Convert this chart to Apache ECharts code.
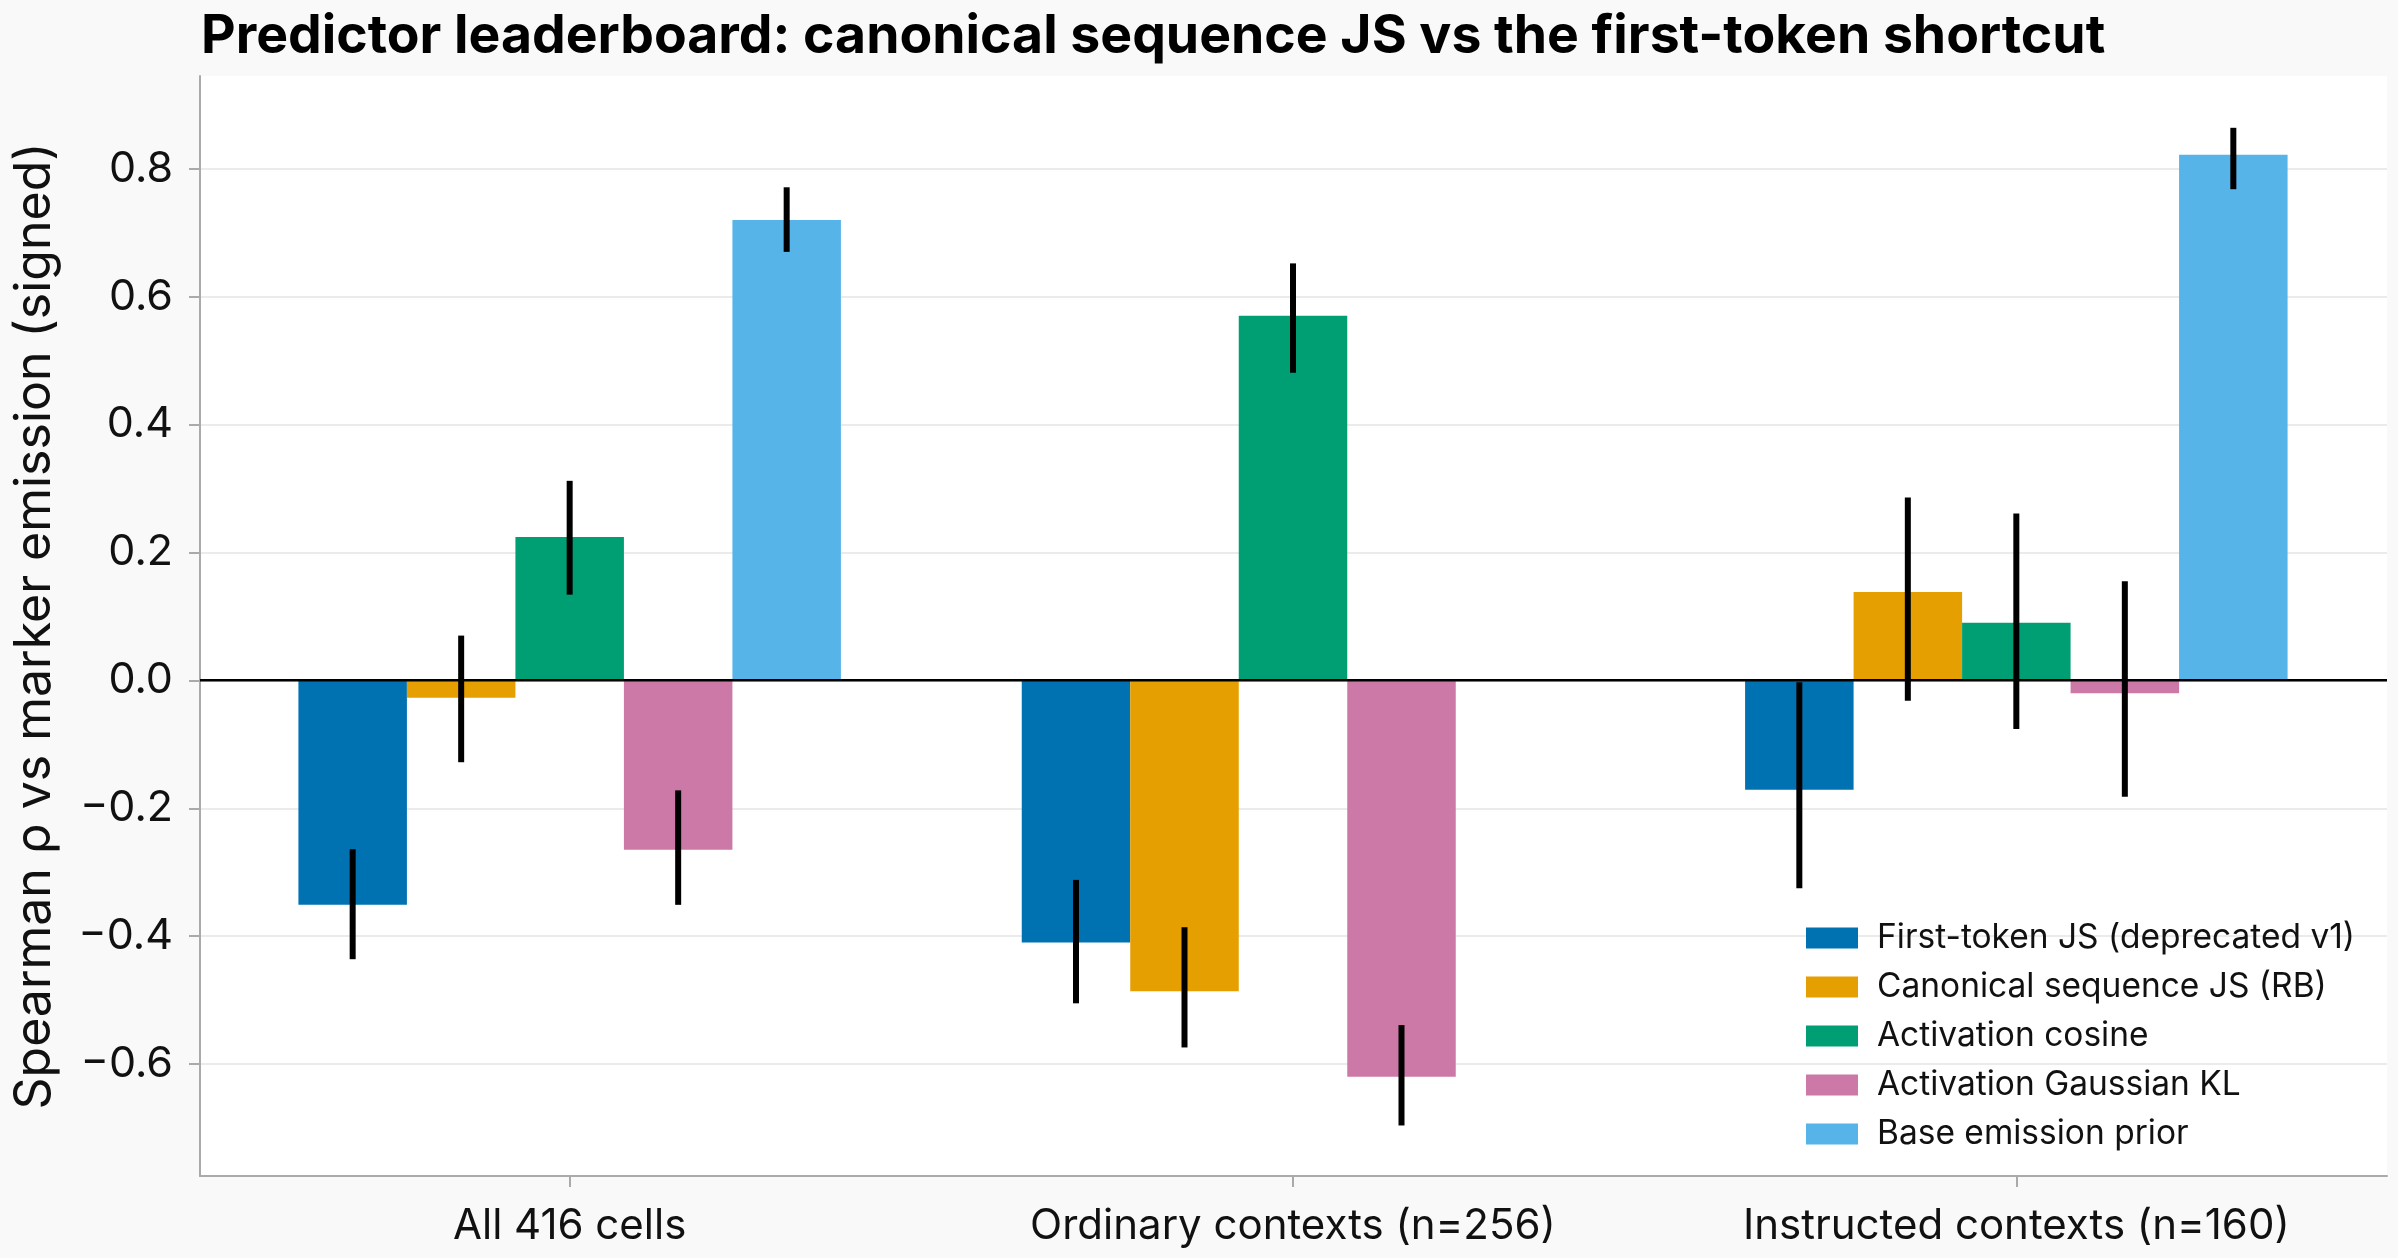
<!DOCTYPE html>
<html>
<head>
<meta charset="utf-8">
<script src="https://cdn.jsdelivr.net/npm/echarts@6/dist/echarts.min.js"></script>
<style>
  html, body { margin: 0; padding: 0; background: #f9f9f9; }
  #chart { width: 2398px; height: 1258px; }
</style>
</head>
<body>
<div id="chart"></div>
<script>
var categories = ['All 416 cells', 'Ordinary contexts (n=256)', 'Instructed contexts (n=160)'];
var predictors = ['First-token JS (deprecated v1)', 'Canonical sequence JS (RB)', 'Activation cosine', 'Activation Gaussian KL', 'Base emission prior'];
var colors = ['#0072B2', '#E69F00', '#009E73', '#CC79A7', '#56B4E9'];

// signed Spearman rho per predictor, one value per context group
var firstTokenJS = [-0.351, -0.410, -0.171];
var canonicalJS = [-0.027, -0.486, 0.138];
var actCosine = [0.224, 0.570, 0.090];
var actGaussKL = [-0.265, -0.620, -0.020];
var basePrior = [0.720, null, 0.822];

// error bar ends (low, high)
var firstTokenLo = [-0.436, -0.505, -0.325];
var firstTokenHi = [-0.264, -0.312, -0.003];
var canonicalLo = [-0.128, -0.574, -0.032];
var canonicalHi = [0.070, -0.386, 0.286];
var cosineLo = [0.134, 0.481, -0.076];
var cosineHi = [0.312, 0.652, 0.261];
var gaussKLLo = [-0.351, -0.696, -0.182];
var gaussKLHi = [-0.172, -0.539, 0.155];
var priorLo = [0.670, null, 0.768];
var priorHi = [0.771, null, 0.864];

var values = [firstTokenJS, canonicalJS, actCosine, actGaussKL, basePrior];
var lows = [firstTokenLo, canonicalLo, cosineLo, gaussKLLo, priorLo];
var highs = [firstTokenHi, canonicalHi, cosineHi, gaussKLHi, priorHi];

var FONT = 'Inter, "Noto Sans", sans-serif';
var Y_MIN = -0.775, Y_MAX = 0.945;
var chart = echarts.init(document.getElementById('chart'));

var series = [];

// zero reference line across the whole frame
series.push({
  name: 'zero',
  type: 'custom',
  xAxisIndex: 0,
  yAxisIndex: 0,
  z: 6,
  silent: true,
  data: [[0, 0]],
  renderItem: function (params, api) {
    var cs = params.coordSys;
    var y = api.coord([0, 0])[1];
    return {
      type: 'line',
      shape: { x1: cs.x, y1: y, x2: cs.x + cs.width, y2: y },
      style: { stroke: '#000', lineWidth: 2.5 }
    };
  }
});

predictors.forEach(function (name, k) {
  series.push({
    name: name,
    type: 'bar',
    xAxisIndex: 1,
    yAxisIndex: 1,
    data: values[k],
    itemStyle: { color: colors[k] },
    barGap: '0%',
    barCategoryGap: '25%',
    z: 2
  });
});

predictors.forEach(function (name, k) {
  var errData = [];
  for (var i = 0; i < categories.length; i++) {
    if (lows[k][i] !== null) errData.push([i, lows[k][i], highs[k][i]]);
  }
  series.push({
    name: 'err' + k,
    type: 'custom',
    xAxisIndex: 1,
    yAxisIndex: 1,
    z: 7,
    silent: true,
    data: errData,
    encode: { x: 0, y: [1, 2] },
    renderItem: function (params, api) {
      var x = api.value(0);
      var bw = api.size([1, 0])[0];
      var dx = (k - 2) * 0.15 * bw;
      var top = api.coord([x, api.value(2)]);
      var bot = api.coord([x, api.value(1)]);
      return {
        type: 'line',
        shape: { x1: top[0] + dx, y1: top[1], x2: bot[0] + dx, y2: bot[1] },
        style: { stroke: '#000', lineWidth: 6 }
      };
    }
  });
});

var option = {
  backgroundColor: '#f9f9f9',
  animation: false,
  textStyle: { fontFamily: FONT },
  title: {
    text: 'Predictor leaderboard: canonical sequence JS vs the first-token shortcut',
    left: 196,
    top: 5,
    textStyle: { fontFamily: FONT, fontSize: 53.5, fontWeight: 'bold', color: '#000' }
  },
  legend: {
    data: predictors,
    orient: 'vertical',
    left: 1801,
    top: 916,
    icon: 'rect',
    itemWidth: 52,
    itemHeight: 21,
    itemGap: 15,
    textStyle: { fontFamily: FONT, fontSize: 33.5, color: '#111', lineHeight: 34, padding: [0, 0, 0, 14] }
  },
  grid: [
    { left: 200, right: 11, top: 76, bottom: 82, show: true, backgroundColor: '#ffffff', borderWidth: 0 },
    { left: 208, right: 20, top: 76, bottom: 82 }
  ],
  xAxis: [
    {
      gridIndex: 0,
      type: 'category',
      data: categories,
      axisLine: { onZero: false, lineStyle: { color: '#aaaaaa', width: 2 } },
      axisTick: { show: false },
      axisLabel: { show: false }
    },
    {
      gridIndex: 1,
      type: 'category',
      data: categories,
      axisLine: { show: false, onZero: false },
      axisTick: { show: true, alignWithLabel: true, length: 11, lineStyle: { color: '#aaaaaa', width: 2 } },
      axisLabel: { fontFamily: FONT, fontSize: 42, color: '#111', margin: 29 }
    }
  ],
  yAxis: [
    {
      gridIndex: 0,
      type: 'value',
      min: Y_MIN,
      max: Y_MAX,
      splitNumber: 8,
      minInterval: 0.2,
      maxInterval: 0.2,
      name: 'Spearman ρ vs marker emission (signed)',
      nameLocation: 'middle',
      nameGap: 140,
      nameTextStyle: { fontFamily: FONT, fontSize: 50, color: '#111' },
      axisLine: { show: true, lineStyle: { color: '#aaaaaa', width: 2 } },
      axisTick: { show: true, length: 11, lineStyle: { color: '#aaaaaa', width: 2 } },
      axisLabel: {
        fontFamily: FONT, fontSize: 43, color: '#111', margin: 27,
        showMinLabel: false, showMaxLabel: false,
        formatter: function (v) {
          var r = Math.round(v * 10) / 10;
          if (Math.abs(v - r) > 1e-6) return '';
          return (r < 0 ? '\u2212' : '') + Math.abs(r).toFixed(1);
        }
      },
      splitLine: { show: true, showMinLine: false, showMaxLine: false, lineStyle: { color: '#ebebeb', width: 2 } }
    },
    {
      gridIndex: 1,
      type: 'value',
      min: Y_MIN,
      max: Y_MAX,
      show: false,
      splitLine: { show: false }
    }
  ],
  series: series
};

chart.setOption(option);
</script>
</body>
</html>
